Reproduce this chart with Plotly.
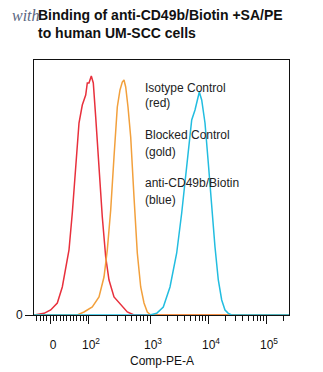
import numpy as np
import plotly.graph_objects as go

# Display channels (0-255 across the plot) and histogram counts for each sample
red_x = [0, 10, 16.7, 23.3, 28.3, 31.7, 35, 38.3, 41.7, 45, 48.3, 51.7, 53.3, 55, 57.3, 59.3,
         61.7, 65, 68.3, 71.7, 75, 80, 86.7, 93.3, 100, 255]
red_y = [0, 1.7, 5, 12, 28, 48, 65, 102, 148, 192, 210, 220, 232, 232, 239, 232,
         198, 145, 98, 58, 35, 18, 10, 3, 0, 0]

gold_x = [0, 43.3, 50, 58.3, 65, 70, 73.3, 76.7, 80, 83.3, 86, 88.3, 90, 91.7, 94,
          96.7, 100, 103.3, 106.7, 110, 113.3, 116.7, 255]
gold_y = [0, 0, 3, 8, 18, 38, 65, 105, 158, 208, 225, 233, 235, 228, 208,
          178, 118, 62, 28, 12, 3, 0, 0]

blue_x = [0, 116, 122.7, 129.3, 136, 142.7, 147.7, 151, 154.3, 157.7, 161, 165.3, 167.7,
          171, 174.3, 177.7, 181, 184.3, 187.7, 191, 194.3, 197.7, 255]
blue_y = [0, 0, 1.7, 8, 28, 62, 102, 135, 168, 195, 205, 223, 215,
          192, 152, 108, 68, 35, 15, 5, 1.7, 0, 0]

# Axis labelling on the biexponential display scale
decade_pos = {2: 54, 3: 116, 4: 174, 5: 232}
label_vals = [16, 54, 116, 174, 232]
label_text = ["0", "10<sup>2</sup>", "10<sup>3</sup>", "10<sup>4</sup>", "10<sup>5</sup>"]

title_lines = ["Binding of anti-CD49b/Biotin +SA/PE", "to human UM-SCC cells"]
legend_lines = ["Isotype Control", "(red)", "Blocked Control", "(gold)",
                "anti-CD49b/Biotin", "(blue)"]

# minor ticks: linear region around zero, then log-spaced within each decade
minor = [26 + k * 10 / 3 for k in range(-7, 9)]
widths = {2: 62, 3: 58, 4: 58, 5: 58}
for d, p in decade_pos.items():
    for k in range(2, 10):
        v = p + widths[d] * np.log10(k)
        if v < 255:
            minor.append(round(float(v), 2))

fig = go.Figure()
for xs, ys, col in [(red_x, red_y, "#e8303c"), (gold_x, gold_y, "#f2a03c"),
                    (blue_x, blue_y, "#22bde0")]:
    fig.add_trace(go.Scatter(x=xs, y=ys, mode="lines",
                             line=dict(color=col, width=1.5), hoverinfo="skip"))

font = "Liberation Sans, Arial, sans-serif"
fig.update_layout(
    width=323, height=372,
    margin=dict(l=34, r=34, t=60, b=57, autoexpand=False),
    paper_bgcolor="white", plot_bgcolor="white",
    showlegend=False,
    font=dict(family=font, size=12, color="#111"),
    xaxis=dict(range=[0, 255], showgrid=False, zeroline=False, automargin=False,
               tickmode="array", tickvals=label_vals, ticktext=label_text,
               ticks="outside", ticklen=8, tickcolor="#111", tickwidth=1,
               ticklabelshift=3, ticklabelstandoff=11,
               minor=dict(tickmode="array", tickvals=minor, ticks="outside",
                          ticklen=5, tickcolor="#111", tickwidth=1, showgrid=False),
               showline=True, linecolor="#111", linewidth=1, mirror=True),
    yaxis=dict(range=[0, 255], showgrid=False, zeroline=False, automargin=False,
               tickmode="array", tickvals=[0], ticktext=["0"],
               ticks="outside", ticklen=8, tickcolor="#111", ticklabelstandoff=0,
               showline=True, linecolor="#111", linewidth=1, mirror=True),
)

# axis title
fig.add_annotation(text="Comp-PE-A", xref="paper", yref="paper",
                   x=(162 - 34) / 255, y=(315 - 361) / 255,
                   xanchor="center", yanchor="middle", showarrow=False,
                   font=dict(size=12, color="#111"))

fig.add_annotation(text="<i>with</i>", xref="paper", yref="paper",
                   x=(10 - 34) / 255, y=1 + (60 - 16) / 255,
                   xanchor="left", yanchor="middle", showarrow=False,
                   font=dict(family="Liberation Serif, serif", size=16, color="#5a6682"))

for txt, py in zip(title_lines, [15, 33]):
    fig.add_annotation(text="<b>" + txt + "</b>", xref="paper", yref="paper",
                       x=(36 - 34) / 255, y=1 + (60 - py) / 255,
                       xanchor="left", yanchor="middle", showarrow=False,
                       font=dict(size=14, color="#111"))

line_y = [88, 103, 135, 152, 183, 200]
for txt, py in zip(legend_lines, line_y):
    fig.add_annotation(text=txt, xref="paper", yref="paper",
                       x=(143 - 34) / 255, y=(315 - py) / 255,
                       xanchor="left", yanchor="middle", showarrow=False,
                       font=dict(size=12, color="#222"))

fig.write_html("out.html")
